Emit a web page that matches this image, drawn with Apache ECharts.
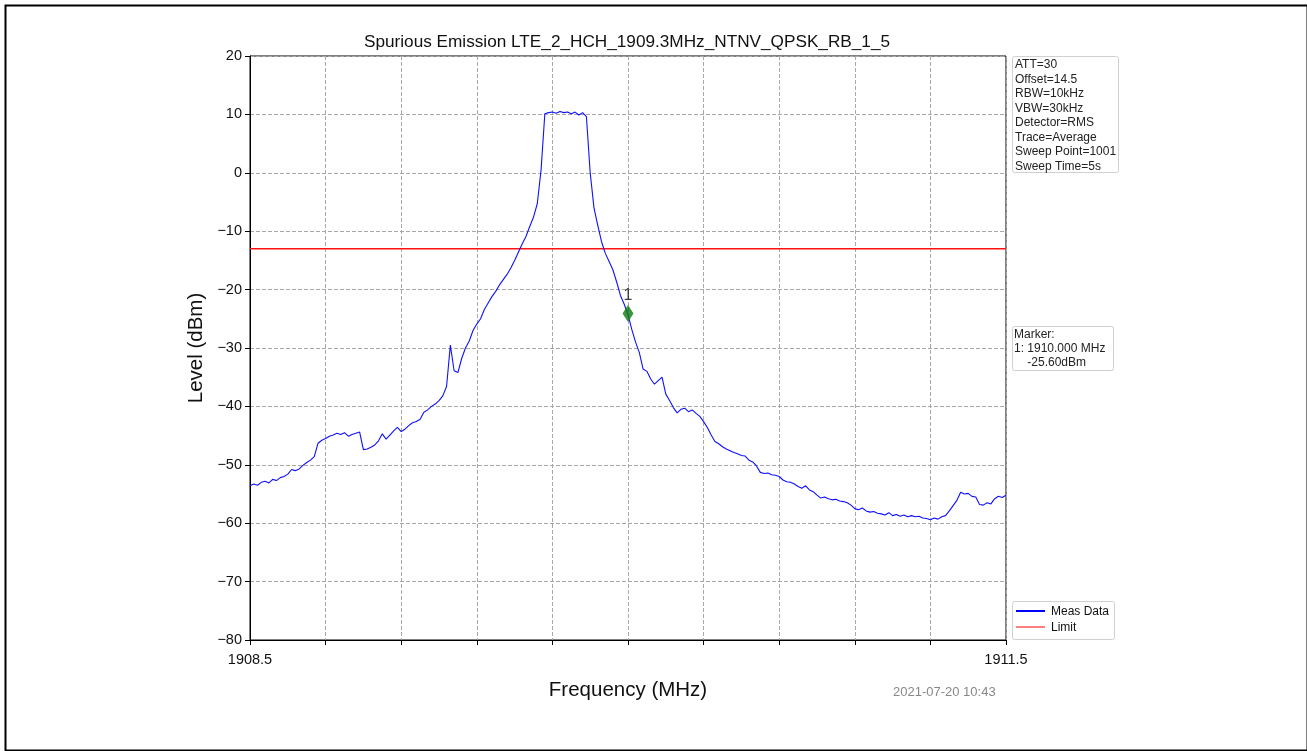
<!DOCTYPE html>
<html>
<head>
<meta charset="utf-8">
<script src="https://cdn.jsdelivr.net/npm/echarts@6/dist/echarts.min.js"></script>
<style>
html,body{margin:0;padding:0;background:#fff;}
#chart{width:1307px;height:751px;}
</style>
</head>
<body>
<div id="chart"></div>
<script>
// ---- data ----
const titleText = 'Spurious Emission LTE_2_HCH_1909.3MHz_NTNV_QPSK_RB_1_5';
const freqStartMHz = 1908.5;
const freqStopMHz = 1911.5;
const freqStepMHz = 0.015; // sweep point spacing used for the read-off trace
const gridStepMHz = 0.3;
const yTicks = [-80, -70, -60, -50, -40, -30, -20, -10, 0, 10, 20];
const measLevels = [
-53.6,-53.3,-53.5,-53.0,-52.8,-53.1,-52.5,-52.7,-52.2,-52.0,
-51.6,-50.8,-51.0,-50.7,-50.1,-49.6,-49.2,-48.6,-46.3,-45.8,
-45.5,-45.1,-44.9,-44.6,-44.8,-44.5,-45.1,-44.8,-44.6,-44.4,
-47.4,-47.3,-47.0,-46.6,-45.9,-44.7,-45.6,-44.9,-44.2,-43.6,
-44.3,-43.9,-43.3,-42.8,-42.6,-42.2,-41.0,-40.6,-40.0,-39.6,
-39.0,-38.2,-36.6,-29.5,-33.9,-34.2,-31.8,-30.0,-28.8,-27.0,
-25.9,-25.0,-23.4,-22.3,-21.2,-20.3,-19.2,-18.3,-17.4,-16.3,
-15.0,-13.6,-12.2,-10.9,-9.2,-7.6,-5.3,0.5,10.1,10.3,
10.4,10.2,10.5,10.3,10.4,10.1,10.4,9.9,10.3,9.6,
0.0,-6.0,-9.0,-11.8,-13.8,-15.2,-16.6,-18.7,-21.0,-22.5,
-24.3,-26.8,-29.0,-30.8,-33.6,-34.0,-35.3,-36.2,-35.6,-35.0,
-37.9,-39.0,-40.2,-41.1,-40.5,-40.3,-40.9,-40.6,-41.2,-41.7,
-42.6,-43.6,-44.9,-46.0,-46.4,-46.9,-47.3,-47.6,-47.9,-48.1,
-48.4,-48.5,-49.2,-49.5,-50.2,-51.3,-51.5,-51.4,-51.7,-51.8,
-52.0,-52.6,-52.9,-53.0,-53.3,-53.7,-54.0,-53.6,-54.3,-54.6,
-55.2,-55.7,-55.5,-55.8,-56.0,-55.9,-56.2,-56.3,-56.5,-56.9,
-57.5,-57.7,-57.4,-57.9,-58.1,-58.0,-58.3,-58.4,-58.6,-58.2,
-58.7,-58.5,-58.8,-58.6,-58.9,-58.7,-58.9,-58.8,-59.1,-59.2,
-59.4,-59.1,-59.3,-58.9,-58.7,-57.9,-57.0,-56.1,-54.7,-55.0,
-54.9,-55.4,-55.5,-56.8,-56.9,-56.5,-56.7,-55.8,-55.4,-55.6,
-55.2
];
const limitLevel = -13;
const markerFreqMHz = [1910.0];
const markerLevel = [-24.1];
const markerNames = ['1'];
const infoLines = ['ATT=30','Offset=14.5','RBW=10kHz','VBW=30kHz','Detector=RMS','Trace=Average','Sweep Point=1001','Sweep Time=5s'];
const markerLines = ['Marker:','1: 1910.000 MHz','    -25.60dBm'];
const legendNames = ['Meas Data','Limit'];
const dateText = '2021-07-20 10:43';

// ---- build ----
// x axis uses kHz offset from start so ticks align with the 0.3 MHz grid
const toX = f => Math.round((f - freqStartMHz) * 1000);
const spanK = toX(freqStopMHz);
const measData = measLevels.map((v, i) => [Math.round(i * freqStepMHz * 1000), v]);
const limitData = [[0, limitLevel], [spanK, limitLevel]];
const markerData = markerFreqMHz.map((f, i) => ({value: [toX(f), markerLevel[i]], name: markerNames[i]}));

const FONT = '"Liberation Sans", Arial, sans-serif';
const gridLine = {show: true, lineStyle: {color: '#a8a8a8', type: [4, 2], width: 1}};

const chart = echarts.init(document.getElementById('chart'), null, {renderer: 'canvas'});

const boxText = (x, y, lines, lh) => lines.map((t, i) => ({
  type: 'text', left: x, top: y + i * lh,
  style: {text: t, font: '12px ' + FONT, fill: '#222'}
}));

chart.setOption({
  animation: false,
  backgroundColor: '#ffffff',
  title: {
    text: titleText, left: 622, top: 29, textAlign: 'center',
    textStyle: {fontFamily: FONT, fontSize: 17.2, fontWeight: 'normal', color: '#111'}
  },
  grid: {left: 250, top: 56, right: 301, bottom: 111, show: true, borderColor: '#000', borderWidth: 1, backgroundColor: 'transparent'},
  xAxis: {
    type: 'value', min: 0, max: spanK, interval: gridStepMHz * 1000,
    name: 'Frequency (MHz)', nameLocation: 'middle', nameGap: 40,
    nameTextStyle: {fontFamily: FONT, fontSize: 20.5, color: '#111'},
    axisLine: {onZero: false, lineStyle: {color: '#000', width: 1}},
    axisTick: {show: true, inside: false, length: 5, lineStyle: {color: '#000'}},
    axisLabel: {
      fontFamily: FONT, fontSize: 14.5, color: '#111', margin: 12, showMinLabel: true, showMaxLabel: true,
      formatter: v => (v === 0 ? freqStartMHz.toFixed(1) : (v === spanK ? freqStopMHz.toFixed(1) : ''))
    },
    splitLine: gridLine
  },
  yAxis: {
    type: 'value', min: yTicks[0], max: yTicks[yTicks.length - 1], interval: 10,
    name: 'Level (dBm)', nameLocation: 'middle', nameGap: 43,
    nameTextStyle: {fontFamily: FONT, fontSize: 20.5, color: '#111'},
    axisLine: {show: true, onZero: false, lineStyle: {color: '#000', width: 1}},
    axisTick: {show: true, inside: false, length: 5, lineStyle: {color: '#000'}},
    axisLabel: {fontFamily: FONT, fontSize: 14.5, color: '#111', margin: 8,
      formatter: v => (v < 0 ? '\u2212' + Math.abs(v) : String(v))},
    splitLine: gridLine
  },
  series: [
    {
      name: legendNames[0], type: 'line', data: measData, showSymbol: false, symbol: 'none',
      lineStyle: {color: '#1010ff', width: 1.1}, z: 3
    },
    {
      name: legendNames[1], type: 'line', data: limitData, showSymbol: false, symbol: 'none',
      lineStyle: {color: '#ff1010', width: 1.5}, z: 2
    },
    {
      name: 'marker', type: 'scatter', data: markerData, symbol: 'diamond', symbolSize: [11, 17],
      itemStyle: {color: '#0b7a0b'}, z: 5,
      label: {show: true, position: 'top', distance: 1, formatter: p => p.name, fontFamily: FONT, fontSize: 16, color: '#111'}
    }
  ],
  graphic: [
    {type: 'rect', left: 3, top: 3, shape: {width: 1302, height: 745}, style: {fill: 'none', stroke: '#000', lineWidth: 2}, silent: true},
    {type: 'rect', left: 1012, top: 56, shape: {width: 106, height: 116, r: 2}, style: {fill: '#fff', stroke: '#d0d0d0', lineWidth: 1}},
    ...boxText(1015, 59, infoLines, 14.5),
    {type: 'rect', left: 1012, top: 326, shape: {width: 101, height: 44, r: 2}, style: {fill: '#fff', stroke: '#d0d0d0', lineWidth: 1}},
    ...boxText(1014, 329, markerLines, 14),
    {type: 'rect', left: 1012, top: 601, shape: {width: 102, height: 38, r: 2}, style: {fill: '#fff', stroke: '#d0d0d0', lineWidth: 1}},
    {type: 'line', shape: {x1: 1016, y1: 611, x2: 1045, y2: 611}, style: {stroke: '#0000ff', lineWidth: 2}},
    {type: 'line', shape: {x1: 1016, y1: 627, x2: 1045, y2: 627}, style: {stroke: '#ff0000', lineWidth: 1}},
    {type: 'text', left: 1051, top: 606, style: {text: legendNames[0], font: '12px ' + FONT, fill: '#111'}},
    {type: 'text', left: 1051, top: 622, style: {text: legendNames[1], font: '12px ' + FONT, fill: '#111'}},
    {type: 'text', left: 893, top: 686, style: {text: dateText, font: '13px ' + FONT, fill: '#888'}}
  ]
});
</script>
</body>
</html>
